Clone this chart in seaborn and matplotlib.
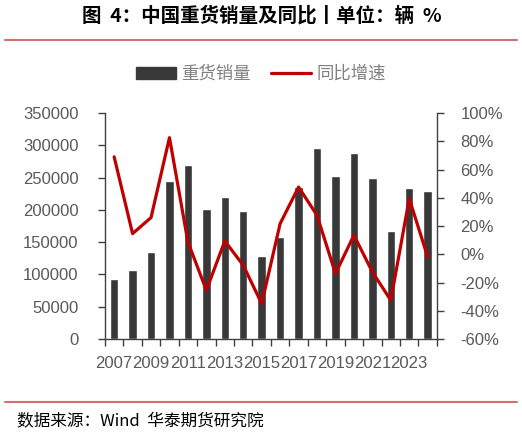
import seaborn as sns
import matplotlib.pyplot as plt
import numpy as np
import pandas as pd
from matplotlib.patches import Patch
from matplotlib.lines import Line2D

years = [str(y) for y in range(2007, 2025)]
sales = [93000, 107000, 134000, 245500, 270000, 201700, 219700, 198000, 129000,
         157600, 235000, 295700, 252300, 288000, 249800, 168000, 233600, 229000]
yoy = [69.0, 14.6, 26.0, 82.6, 8.7, -25.5, 9.4, -7.8, -35.0,
       21.7, 47.6, 27.6, -13.7, 13.5, -12.5, -32.6, 39.4, -1.9]

df = pd.DataFrame({"year": years, "sales": sales, "yoy": yoy})

sns.set_theme(style="white")
plt.rcParams["font.family"] = ["Liberation Sans", "Noto Sans CJK SC", "DejaVu Sans"]

BAR = "#383838"
RED = "#C00000"
AXC = "#404040"
TXT = "#595959"

fig = plt.figure(figsize=(5.22, 4.32), dpi=100)
ax = fig.add_axes([0.201, 0.2153, 0.636, 0.523])

# bars: annual sales, line: yoy growth on the right axis
sns.barplot(data=df, x="year", y="sales", color=BAR, width=0.456,
            saturation=1, ax=ax)
ax2 = ax.twinx()
sns.lineplot(x=np.arange(len(years)), y=df["yoy"], color=RED, linewidth=2.3,
             ax=ax2)

ax.set_xlim(-0.5, len(years) - 0.5)
ax.set_ylim(0, 350000)
ax.set_yticks(np.arange(0, 350001, 50000))
ax2.set_ylim(-60, 100)
ax2.set_yticks(np.arange(-60, 101, 20))
ax2.set_yticklabels([f"{v}%" for v in range(-60, 101, 20)])

ax.set_xticks(np.arange(0, len(years), 2))
ax.set_xticklabels(years[::2])
ax.set_xticks(np.arange(-0.5, len(years)), minor=True)
ax.tick_params(axis="x", which="major", length=0, pad=12, labelsize=12, labelcolor=TXT)
ax.tick_params(axis="x", which="minor", length=5, width=1, color=AXC, bottom=True)
ax.tick_params(axis="y", length=5, width=1, color=AXC, pad=14, labelsize=12,
               labelcolor=TXT, left=True)
ax2.tick_params(axis="y", length=5, width=1, color=AXC, pad=12, labelsize=12,
                labelcolor=TXT, right=True)

for a in (ax, ax2):
    a.set_xlabel("")
    a.set_ylabel("")
    a.spines["top"].set_visible(False)
    for s in ("left", "right", "bottom"):
        a.spines[s].set_color(AXC)
        a.spines[s].set_linewidth(1)
ax.spines["right"].set_visible(False)
ax2.spines["left"].set_visible(False)
ax2.spines["bottom"].set_visible(False)

fig.text(0.502, 1 - 16 / 432, "图  4：中国重货销量及同比丨单位：辆  %", ha="center",
         va="center", fontsize=14, fontweight="bold", color="black",
         family=["Noto Sans CJK SC", "DejaVu Sans"])

handles = [Patch(facecolor=BAR, edgecolor=BAR),
           Line2D([0], [0], color=RED, linewidth=2.3)]
leg = fig.legend(handles, ["重货销量", "同比增速"], loc="center",
                 bbox_to_anchor=(0.5, 1 - 74 / 432), ncol=2, frameon=False,
                 handlelength=2.3, handletextpad=0.3, columnspacing=1.2,
                 prop={"family": ["Noto Sans CJK SC"], "size": 12.5})
for t in leg.get_texts():
    t.set_color("#808080")

for y in (1 - 40 / 432, 1 - 401.7 / 432):
    fig.add_artist(Line2D([0.01, 0.99], [y, y], transform=fig.transFigure,
                          color="#D07070", linewidth=1.5))

fig.text(17 / 522, 1 - 421 / 432, "数据来源：Wind  华泰期货研究院", ha="left",
         va="center", fontsize=12, color="black",
         family=["Noto Sans CJK SC", "DejaVu Sans"])

fig.savefig("out.png", dpi=100)
